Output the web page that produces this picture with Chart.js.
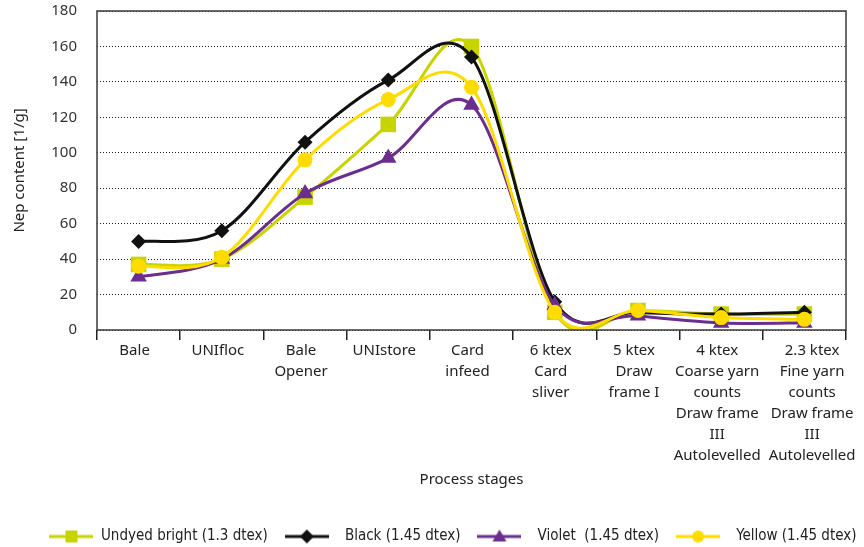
<!DOCTYPE html>
<html><head><meta charset="utf-8">
<script src="https://cdn.jsdelivr.net/npm/chart.js@4"></script>
<style>html,body{margin:0;padding:0;background:#fff}</style>
</head><body>
<canvas id="c" width="864" height="547" style="width:864px;height:547px;display:block"></canvas>
<script>
const categories = [
  ["Bale"], ["UNIfloc"], ["Bale","Opener"], ["UNIstore"], ["Card","infeed"],
  ["6 ktex","Card","sliver"], ["5 ktex","Draw","frame I"],
  ["4 ktex","Coarse yarn","counts","Draw frame","III","Autolevelled"],
  ["      2.3 ktex","      Fine yarn","      counts","      Draw frame","      III","      Autolevelled"]
];
const seriesNames = ["Undyed bright (1.3 dtex)", "  Black (1.45 dtex)", "  Violet  (1.45 dtex)", "  Yellow (1.45 dtex)"];
const undyedBright = [37, 40, 75, 116, 160, 10, 11, 9, 9];
const blackSeries  = [50, 56, 106, 141, 154, 16, 10, 9, 10];
const violetSeries = [30, 40, 77, 97, 127, 14, 8, 4, 4];
const yellowSeries = [36, 41, 96, 130, 137, 10, 11, 7, 6];
const yMin = 0, yMax = 180, yStep = 20;

const COLORS = ["#c8d400", "#111111", "#6b2d8e", "#ffdc00"];
const STYLES = ["rect", "rectRot", "triangle", "circle"];
const RADII  = [11, 7.5, 9.5, 7.5];

function legendImage(color, style) {
  const cv = document.createElement('canvas');
  cv.width = 44; cv.height = 16;
  const g = cv.getContext('2d');
  g.strokeStyle = color; g.lineWidth = 3;
  g.beginPath(); g.moveTo(0, 8); g.lineTo(44, 8); g.stroke();
  g.fillStyle = color;
  const x = 22, y = 8;
  g.beginPath();
  if (style === 'rect') { g.rect(x - 6, y - 6, 12, 12); }
  else if (style === 'rectRot') { g.moveTo(x - 7, y); g.lineTo(x, y - 7); g.lineTo(x + 7, y); g.lineTo(x, y + 7); g.closePath(); }
  else if (style === 'triangle') { g.moveTo(x, y - 7); g.lineTo(x + 7, y + 5); g.lineTo(x - 7, y + 5); g.closePath(); }
  else { g.arc(x, y, 6, 0, Math.PI * 2); }
  g.fill();
  return cv;
}

const dataArrays = [undyedBright, blackSeries, violetSeries, yellowSeries];
const drawOrder = [3, 2, 1, 0];
const datasets = dataArrays.map((d, i) => ({
  label: seriesNames[i],
  data: d,
  borderColor: COLORS[i],
  backgroundColor: COLORS[i],
  pointBackgroundColor: COLORS[i],
  pointBorderColor: COLORS[i],
  pointBorderWidth: 0,
  pointStyle: STYLES[i],
  pointRadius: RADII[i],
  borderWidth: 3,
  tension: 0.4,
  fill: false,
  order: drawOrder[i],
  legendImg: legendImage(COLORS[i], STYLES[i])
}));

// Spreadsheet-style smoothing: control points from neighbouring scale positions
const smoothPlugin = {
  id: 'sheetSmooth',
  beforeDatasetDraw(chart, args) {
    const meta = args.meta, pts = meta.data, n = pts.length;
    for (let i = 0; i < n; i++) {
      const p = pts[i], a = pts[Math.max(i - 1, 0)], b = pts[Math.min(i + 1, n - 1)];
      const dx = (b.x - a.x) / 6, dy = (b.y - a.y) / 6;
      p.cp1x = p.x - dx; p.cp1y = p.y - dy;
      p.cp2x = p.x + dx; p.cp2y = p.y + dy;
    }
    if (meta.dataset) meta.dataset._pointsUpdated = true;
  }
};

const framePlugin = {
  id: 'frame',
  afterLayout(chart) {
    const lg = chart.legend;
    if (lg) { lg.left += 30; lg.right += 30; }
  },
  afterDatasetsDraw(chart) {
    const a = chart.chartArea, ctx = chart.ctx;
    ctx.save();
    ctx.strokeStyle = '#3a3a3a';
    ctx.lineWidth = 1.5;
    ctx.strokeRect(a.left, a.top, a.right - a.left, a.bottom - a.top);
    ctx.restore();
  }
};

new Chart(document.getElementById('c'), {
  type: 'line',
  data: { labels: categories, datasets },
  plugins: [smoothPlugin, framePlugin],
  options: {
    responsive: false,
    animation: false,
    layout: { padding: { top: 11, right: 18, left: 0, bottom: -7 } },
    plugins: {
      tooltip: { enabled: false },
      legend: {
        position: 'bottom',
        labels: {
          usePointStyle: true,
          pointStyleWidth: 44,
          padding: 17,
          color: '#222',
          font: { family: "'DejaVu Sans Condensed', 'Liberation Sans Narrow', sans-serif", size: 15 },
          generateLabels(chart) {
            return chart.data.datasets.map((ds, i) => ({
              text: ds.label,
              pointStyle: ds.legendImg,
              fillStyle: ds.borderColor,
              strokeStyle: ds.borderColor,
              lineWidth: 0,
              hidden: false,
              datasetIndex: i,
              fontColor: '#222'
            }));
          }
        }
      }
    },
    scales: {
      x: {
        type: 'category',
        offset: true,
        afterFit(s) { s.height = 182; s.paddingTop = 0; s.paddingBottom = 0; },
        grid: { display: true, drawOnChartArea: false, drawTicks: true, tickLength: 10, color: '#222', lineWidth: 1.5, offset: true },
        border: { display: false },
        ticks: {
          autoSkip: false, maxRotation: 0, minRotation: 0, padding: 0, labelOffset: -4,
          color: '#222',
          font: { family: "'Noto Sans', sans-serif", size: 15, lineHeight: 1.4 }
        },
        title: {
          display: true, text: 'Process stages', color: '#222',
          font: { family: "'Noto Sans', sans-serif", size: 15, lineHeight: 1.2 },
          padding: { top: 0, bottom: 23 }
        }
      },
      y: {
        min: yMin, max: yMax,
        afterFit(s) { s.width = 97; s.paddingTop = 0; s.paddingBottom = 0; },
        ticks: {
          stepSize: yStep, padding: 20, color: '#333',
          font: { family: "'Noto Sans', sans-serif", size: 15 }
        },
        grid: { color: '#222', lineWidth: 1, drawTicks: false },
        border: { display: false, dash: [1, 2] },
        title: {
          display: true, text: 'Nep content [1/g]', color: '#222',
          font: { family: "'Noto Sans', sans-serif", size: 15, lineHeight: 1.2 },
          padding: { top: 11, bottom: 0 }
        }
      }
    }
  }
});
</script>
</body></html>
